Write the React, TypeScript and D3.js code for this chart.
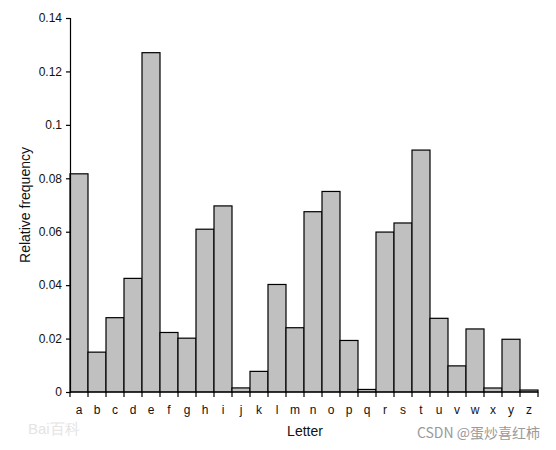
import React, { useEffect, useRef } from 'react';
import * as d3 from 'd3';

const letters = 'abcdefghijklmnopqrstuvwxyz'.split('');
const frequencies = [
  0.08167, 0.01492, 0.02782, 0.04253, 0.12702, 0.02228, 0.02015, 0.06094,
  0.06966, 0.00153, 0.00772, 0.04025, 0.02406, 0.06749, 0.07507, 0.01929,
  0.00095, 0.05987, 0.06327, 0.09056, 0.02758, 0.00978, 0.0236, 0.0015,
  0.01974, 0.00074,
];
const yTicks = [0, 0.02, 0.04, 0.06, 0.08, 0.1, 0.12, 0.14];

const W = 556;
const H = 450;
const margin = { top: 18, right: 18, bottom: 58, left: 70 };

const App: React.FC = () => {
  const svgRef = useRef<SVGSVGElement>(null);

  useEffect(() => {
    if (!svgRef.current) return;
    const svg = d3.select(svgRef.current);
    svg.selectAll('*').remove();

    const font = 'Arial, "Liberation Sans", sans-serif';
    const x = d3.scaleBand<string>()
      .domain(letters)
      .range([margin.left, W - margin.right])
      .padding(0);
    const y = d3.scaleLinear()
      .domain([0, 0.14])
      .range([H - margin.bottom, margin.top]);

    const data = letters.map((l, i) => ({ letter: l, value: frequencies[i] }));

    // bars
    svg.append('g')
      .selectAll('rect')
      .data(data)
      .join('rect')
      .attr('x', d => x(d.letter)!)
      .attr('y', d => y(d.value))
      .attr('width', x.bandwidth())
      .attr('height', d => y(0) - y(d.value))
      .attr('fill', '#c0c0c0')
      .attr('stroke', '#000')
      .attr('stroke-width', 1.2);

    // y axis
    const yAxis = d3.axisLeft(y)
      .tickValues(yTicks)
      .tickSize(4)
      .tickPadding(4)
      .tickFormat(d => String(+d));
    const gy = svg.append('g')
      .attr('transform', `translate(${margin.left},0)`)
      .call(yAxis);
    gy.select('.domain').attr('stroke', '#000').attr('stroke-width', 1.2);
    gy.selectAll('.tick line').attr('stroke', '#000').attr('stroke-width', 1.2);
    gy.selectAll('.tick text')
      .attr('font-family', font)
      .attr('font-size', 12)
      .attr('fill', '#111');

    // x axis line + boundary ticks
    const gx = svg.append('g');
    gx.append('line')
      .attr('x1', margin.left)
      .attr('x2', W - margin.right)
      .attr('y1', y(0))
      .attr('y2', y(0))
      .attr('stroke', '#000')
      .attr('stroke-width', 1.2);
    const bounds = letters.map(l => x(l)!).concat([W - margin.right]);
    gx.selectAll('line.bt')
      .data(bounds)
      .join('line')
      .attr('class', 'bt')
      .attr('x1', d => d)
      .attr('x2', d => d)
      .attr('y1', y(0))
      .attr('y2', y(0) + 5)
      .attr('stroke', '#000')
      .attr('stroke-width', 1.2);
    gx.selectAll('text')
      .data(letters)
      .join('text')
      .attr('x', d => x(d)! + x.bandwidth() / 2)
      .attr('y', y(0) + 22)
      .attr('text-anchor', 'middle')
      .attr('font-family', font)
      .attr('font-size', 12)
      .attr('fill', '#111')
      .text(d => d);

    // axis titles
    svg.append('text')
      .attr('transform', `translate(30,${(margin.top + y(0)) / 2}) rotate(-90)`)
      .attr('text-anchor', 'middle')
      .attr('font-family', font)
      .attr('font-size', 14)
      .attr('fill', '#111')
      .text('Relative frequency');
    svg.append('text')
      .attr('x', 305)
      .attr('y', 436)
      .attr('text-anchor', 'middle')
      .attr('font-family', font)
      .attr('font-size', 14)
      .attr('fill', '#111')
      .text('Letter');

    // watermarks
    svg.append('text')
      .attr('x', 28)
      .attr('y', 434)
      .attr('font-family', font)
      .attr('font-size', 15)
      .attr('fill', '#e4e4e4')
      .text('Bai百科');
    svg.append('text')
      .attr('x', 540)
      .attr('y', 438)
      .attr('text-anchor', 'end')
      .attr('font-family', '"Noto Sans CJK SC", Arial, sans-serif')
      .attr('font-size', 14)
      .attr('fill', '#9a9a9a')
      .text('CSDN @蛋炒喜红柿');
  }, []);

  return (
    <svg
      ref={svgRef}
      width={W}
      height={H}
      style={{ position: 'absolute', left: 0, top: 0, background: '#fff' }}
    />
  );
};

export default App;
